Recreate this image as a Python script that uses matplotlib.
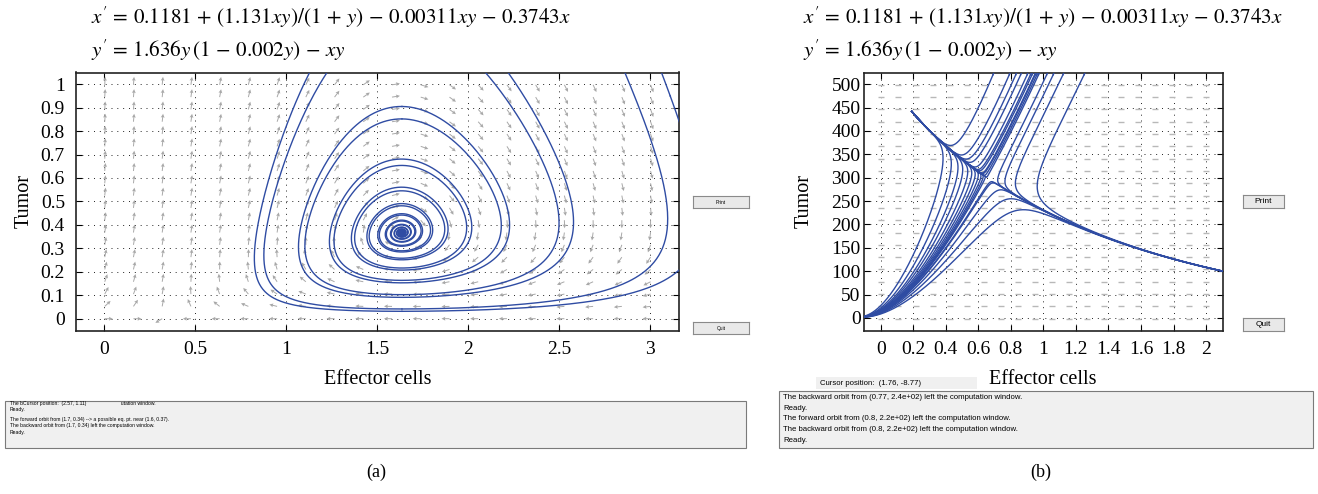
import numpy as np
import matplotlib.pyplot as plt
from matplotlib.patches import Rectangle

plt.rcParams['font.family'] = 'serif'
plt.rcParams['font.serif'] = ['Liberation Serif', 'DejaVu Serif']
plt.rcParams['mathtext.fontset'] = 'stix'

W, H = 1318, 494

# model coefficients
A0, A1, A2, A3 = 0.1181, 1.131, 0.00311, 0.3743
R, B = 1.636, 0.002

# panel (a): window and starting points of the orbits
a_xlim = (-0.155, 3.16)
a_ylim = (-0.053, 1.05)
a_xticks = [0, 0.5, 1, 1.5, 2, 2.5, 3]
a_xlabels = ['0', '0.5', '1', '1.5', '2', '2.5', '3']
a_yticks = [0, 0.1, 0.2, 0.3, 0.4, 0.5, 0.6, 0.7, 0.8, 0.9, 1]
a_ylabels = ['0', '0.1', '0.2', '0.3', '0.4', '0.5', '0.6', '0.7', '0.8', '0.9', '1']
a_x0 = [1.636, 1.636, 1.636, 1.636, 3.11]
a_y0 = [0.905, 0.852, 0.041, 0.031, 0.95]

# panel (b)
b_xlim = (-0.101, 2.106)
b_ylim = (-28, 525)
b_xticks = [0, 0.2, 0.4, 0.6, 0.8, 1, 1.2, 1.4, 1.6, 1.8, 2]
b_xlabels = ['0', '0.2', '0.4', '0.6', '0.8', '1', '1.2', '1.4', '1.6', '1.8', '2']
b_yticks = [0, 50, 100, 150, 200, 250, 300, 350, 400, 450, 500]
b_ylabels = ['0', '50', '100', '150', '200', '250', '300', '350', '400', '450', '500']
b_top_x = [0.69, 0.79, 0.83, 0.86, 0.90, 0.92, 0.93, 0.95, 0.96, 0.97, 1.02, 1.06, 1.12, 1.25]
b_top_y = 520
b_fan_x = [0.22, 0.26, 0.29, 0.31, 0.33, 0.345, 0.357, 0.367, 0.375, 0.381, 0.386,
           0.40, 0.43, 0.47, 0.53]
b_fan_y = 150
b_mid_x = [0.62, 0.69]
b_mid_y = [310, 289]

eq1 = r"$x' \,=\, 0.1181 \,+\, (1.131xy)/(1 \,+\, y) \,-\, 0.00311xy \,-\, 0.3743x$"
eq2 = r"$y' \,=\, 1.636y\,(1 \,-\, 0.002y) \,-\, xy$"

msg_a = ["The bCursor position:  (2.57, 1.11)                         utation window.",
         "Ready.",
         "The forward orbit from (1.7, 0.34) --> a possible eq. pt. near (1.6, 0.37).",
         "The backward orbit from (1.7, 0.34) left the computation window.",
         "Ready."]
msg_b = ["The backward orbit from (0.77, 2.4e+02) left the computation window.",
         "Ready.",
         "The forward orbit from (0.8, 2.2e+02) left the computation window.",
         "The backward orbit from (0.8, 2.2e+02) left the computation window.",
         "Ready."]

BLUE = '#2f4ca3'
GRAY = '#a8a8a8'


def field(x, y):
    dx = A0 + A1 * x * y / (1 + y) - A2 * x * y - A3 * x
    dy = R * y * (1 - B * y) - x * y
    return dx, dy


def orbit(x0, y0, xlim, ylim, h, nmax):
    """RK4 orbit, stops when it leaves the window or settles."""
    xs, ys = [x0], [y0]
    x, y = x0, y0
    xr = xlim[1] - xlim[0]
    yr = ylim[1] - ylim[0]
    for _ in range(nmax):
        k1 = field(x, y)
        k2 = field(x + h / 2 * k1[0], y + h / 2 * k1[1])
        k3 = field(x + h / 2 * k2[0], y + h / 2 * k2[1])
        k4 = field(x + h * k3[0], y + h * k3[1])
        x += h / 6 * (k1[0] + 2 * k2[0] + 2 * k3[0] + k4[0])
        y += h / 6 * (k1[1] + 2 * k2[1] + 2 * k3[1] + k4[1])
        xs.append(x)
        ys.append(y)
        if not (xlim[0] - 0.02 * xr < x < xlim[1] + 0.02 * xr and
                ylim[0] - 0.02 * yr < y < ylim[1] + 0.02 * yr):
            break
        if abs(k1[0]) / xr + abs(k1[1]) / yr < 1e-6:
            break
    return xs, ys


def draw_orbits(ax, x0s, y0s, xlim, ylim, h, nmax):
    for x0, y0 in zip(x0s, y0s):
        for sgn in (1, -1):
            xs, ys = orbit(x0, y0, xlim, ylim, sgn * h, nmax)
            ax.plot(xs, ys, color=BLUE, lw=1.0, zorder=3)


def fig_xy(px, py):
    return px / W, 1 - py / H


def style_axes(ax, xlim, ylim, xt, xl, yt, yl, ypad):
    ax.set_xlim(xlim)
    ax.set_ylim(ylim)
    ax.set_xticks(xt)
    ax.set_xticklabels(xl)
    ax.set_yticks(yt)
    ax.set_yticklabels(yl)
    ax.tick_params(direction='in', top=True, right=True, length=4, width=0.8,
                   labelsize=14)
    ax.tick_params(axis='x', pad=7)
    ax.tick_params(axis='y', pad=ypad)
    ax.grid(True, color='#222222', lw=0.7, linestyle=(0, (1, 5)))
    ax.set_axisbelow(True)
    for s in ax.spines.values():
        s.set_linewidth(1.2)
        s.set_color('#222222')


def button(fig, x0, y0, x1, y1, label, size):
    bx = fig.add_axes([x0 / W, 1 - y1 / H, (x1 - x0) / W, (y1 - y0) / H])
    bx.set_xticks([])
    bx.set_yticks([])
    bx.set_facecolor('#e9e9e9')
    for s in bx.spines.values():
        s.set_color('#8a8a8a')
        s.set_linewidth(0.8)
    bx.text(0.5, 0.5, label, ha='center', va='center', fontsize=size,
            family='Liberation Sans', transform=bx.transAxes)


fig = plt.figure(figsize=(W / 100, H / 100), dpi=100)

# ---------- panel (a)
ax = fig.add_axes([76 / W, 1 - 331 / H, (679.3 - 76) / W, (331 - 72.5) / H])
style_axes(ax, a_xlim, a_ylim, a_xticks, a_xlabels, a_yticks, a_ylabels, 8)

# direction field, 20 x 20 arrows of equal screen length
gx = a_xlim[0] + (a_xlim[1] - a_xlim[0]) * np.arange(1, 21) / 21
gy = a_ylim[0] + (a_ylim[1] - a_ylim[0]) * np.arange(1, 21) / 21
GX, GY = np.meshgrid(gx, gy)
U, V = field(GX, GY)
ppx = 603.3 / (a_xlim[1] - a_xlim[0])
ppy = 258.5 / (a_ylim[1] - a_ylim[0])
su, sv = U * ppx, V * ppy
n = np.hypot(su, sv)
n[n == 0] = 1
ax.quiver(GX, GY, su / n * 8, sv / n * 8, angles='uv', scale_units='dots', scale=1,
          color=GRAY, width=0.0016, headwidth=4, headlength=4, headaxislength=3.5,
          zorder=2)

draw_orbits(ax, a_x0, a_y0, a_xlim, a_ylim, 0.02, 20000)

# ---------- panel (b)
bx = fig.add_axes([864.3 / W, 1 - 331 / H, (1223.3 - 864.3) / W, (331 - 72.5) / H])
style_axes(bx, b_xlim, b_ylim, b_xticks, b_xlabels, b_yticks, b_ylabels, 2.7)

hx = b_xlim[0] + (b_xlim[1] - b_xlim[0]) * np.arange(1, 21) / 21
hy = b_ylim[0] + (b_ylim[1] - b_ylim[0]) * np.arange(1, 21) / 21
HX, HY = np.meshgrid(hx, hy)
bx.scatter(HX.ravel(), HY.ravel(), marker='_', s=22, color='#b8b8b8', lw=1.0, zorder=2)

b_x0 = b_top_x + b_fan_x + b_mid_x
b_y0 = [b_top_y] * len(b_top_x) + [b_fan_y] * len(b_fan_x) + b_mid_y
draw_orbits(bx, b_x0, b_y0, b_xlim, b_ylim, 0.004, 25000)

# ---------- texts
for x0 in (91, 803):
    fig.text(*fig_xy(x0, 17), eq1, fontsize=15.2, ha='left', va='center')
    fig.text(*fig_xy(x0, 50), eq2, fontsize=15.2, ha='left', va='center')

fig.text(*fig_xy(378, 379), 'Effector cells', fontsize=14.5, ha='center', va='center')
fig.text(*fig_xy(1043, 379), 'Effector cells', fontsize=14.5, ha='center', va='center')
fig.text(*fig_xy(24, 201), 'Tumor', fontsize=14.5, ha='center', va='center', rotation=90)
fig.text(*fig_xy(804, 201), 'Tumor', fontsize=14.5, ha='center', va='center', rotation=90)
fig.text(*fig_xy(376, 472), '(a)', fontsize=13, ha='center', va='center')
fig.text(*fig_xy(1041, 472), '(b)', fontsize=13, ha='center', va='center')

button(fig, 693, 196, 749, 208, 'Print', 3.5)
button(fig, 693, 322, 749, 334, 'Quit', 3.5)
button(fig, 1243, 195, 1284, 208, 'Print', 6)
button(fig, 1243, 318, 1284, 331, 'Quit', 6)

# message windows
fig.patches.append(Rectangle(fig_xy(5, 448), 741 / W, 47 / H, transform=fig.transFigure,
                             facecolor='#f0f0f0', edgecolor='#7a7a7a', lw=0.8))
for line, py in zip(msg_a, [404, 409.5, 419, 425.7, 432.3]):
    fig.text(*fig_xy(10, py), line, fontsize=3.6, family='Liberation Sans',
             ha='left', va='center')

fig.patches.append(Rectangle(fig_xy(779, 448), 534 / W, 57 / H, transform=fig.transFigure,
                             facecolor='#f0f0f0', edgecolor='#7a7a7a', lw=0.8))
for line, py in zip(msg_b, [397.7, 408.3, 419, 429.7, 440.3]):
    fig.text(*fig_xy(783, py), line, fontsize=5.6, family='Liberation Sans',
             ha='left', va='center')

fig.patches.append(Rectangle(fig_xy(816, 389), 161 / W, 12 / H, transform=fig.transFigure,
                             facecolor='#f0f0f0', edgecolor='none'))
fig.text(*fig_xy(820, 383), 'Cursor position:  (1.76, -8.77)', fontsize=5.6,
         family='Liberation Sans', ha='left', va='center')

fig.savefig('out.png', dpi=100)
